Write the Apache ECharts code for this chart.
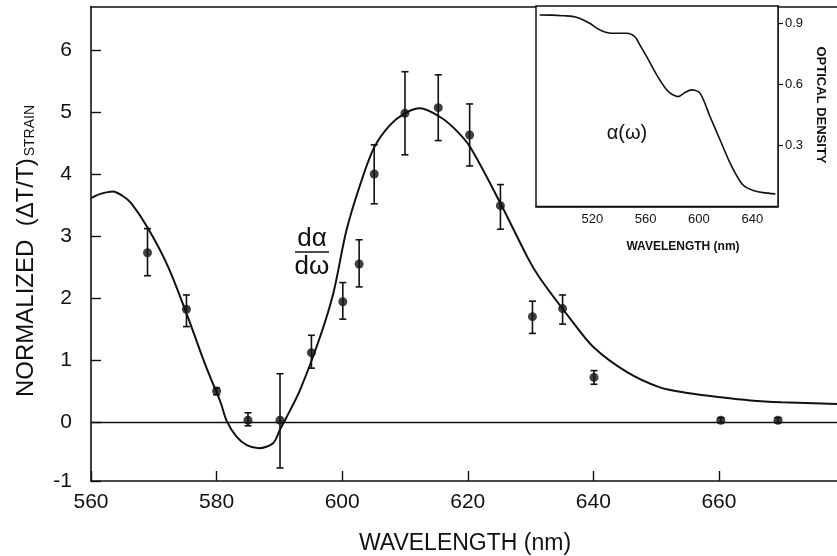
<!DOCTYPE html>
<html>
<head>
<meta charset="utf-8">
<script src="https://cdn.jsdelivr.net/npm/echarts@6/dist/echarts.min.js"></script>
<style>
html,body{margin:0;padding:0;background:#fff;}
#chart{width:837px;height:556px;}
</style>
</head>
<body>
<div id="chart"></div>
<script>
// Main panel: derivative curve d(alpha)/d(omega)
const curveX = [560, 561.5, 563.5, 565, 566.4, 569.1, 572.3, 575.4, 578.1, 579.5, 580.7, 581.6, 583.2, 584.8, 586.75, 589.0, 590.1, 591.0, 593.3, 596.5, 598.6, 600.7, 603.1, 605.1, 607.6, 610, 612.4, 615.6, 618, 620.35, 625.2, 629.6, 631.5, 636.3, 640, 645.3, 650.6, 655, 660.3, 665, 670, 678.8];
const curveY = [3.61, 3.68, 3.72, 3.65, 3.53, 3.12, 2.50, 1.70, 0.95, 0.60, 0.30, 0.02, -0.24, -0.37, -0.42, -0.34, -0.12, 0.05, 0.52, 1.38, 2.08, 3.10, 3.90, 4.43, 4.79, 4.98, 5.06, 4.92, 4.72, 4.44, 3.53, 2.64, 2.32, 1.67, 1.21, 0.81, 0.56, 0.47, 0.40, 0.35, 0.32, 0.29];

// Measured points with error bars
const pointX = [569.0, 575.2, 580.0, 585.0, 590.1, 595.1, 600.1, 602.7, 605.1, 610.0, 615.3, 620.3, 625.2, 630.3, 635.1, 640.1, 660.3, 669.4];
const pointY = [2.73, 1.82, 0.50, 0.03, 0.03, 1.12, 1.94, 2.55, 4.00, 4.98, 5.07, 4.63, 3.49, 1.70, 1.83, 0.72, 0.03, 0.03];
const errLow = [2.36, 1.54, 0.44, -0.06, -0.74, 0.87, 1.66, 2.18, 3.52, 4.31, 4.54, 4.13, 3.11, 1.43, 1.58, 0.61, -0.01, -0.01];
const errHigh = [3.12, 2.05, 0.55, 0.15, 0.78, 1.40, 2.25, 2.94, 4.47, 5.65, 5.60, 5.13, 3.83, 1.95, 2.05, 0.83, 0.07, 0.07];

// Inset: absorption alpha(omega)
const insetX = [480.5, 490, 498.5, 505, 510.8, 518, 525.8, 534.5, 545.8, 552, 556, 560.8, 568.3, 575.8, 580, 584.5, 589.5, 594.5, 600.8, 608.3, 615.8, 623.3, 630.8, 635, 640.8, 648, 657.3];
const insetY = [0.941, 0.940, 0.937, 0.934, 0.924, 0.900, 0.867, 0.851, 0.851, 0.834, 0.790, 0.736, 0.647, 0.573, 0.550, 0.540, 0.560, 0.573, 0.557, 0.442, 0.328, 0.214, 0.124, 0.095, 0.079, 0.068, 0.062];

// Tick labels
const mainXTicks = [560, 580, 600, 620, 640, 660];
const mainYTicks = [-1, 0, 1, 2, 3, 4, 5, 6];
const insetXTicks = [520, 560, 600, 640];
const insetYTicks = [0.3, 0.6, 0.9];

const FONT = 'Liberation Sans, Arial, sans-serif';
const INK = '#111';
const Y_MIN = -0.95;
const yTickPos = mainYTicks.map(v => Math.max(v, Y_MIN));

const chart = echarts.init(document.getElementById('chart'), null, {renderer: 'canvas'});

const curveData = curveX.map((x, i) => [x, curveY[i]]);
const pointData = pointX.map((x, i) => [x, pointY[i]]);
const errData = pointX.map((x, i) => [x, errLow[i], errHigh[i]]);
const insetData = insetX.map((x, i) => [x, insetY[i]]);

const option = {
  animation: false,
  backgroundColor: '#fff',
  grid: [
    {left: 91, right: 0, top: 6.6, bottom: 75, show: false},
    {left: 536, right: 59, top: 6, bottom: 349.5, show: true, backgroundColor: '#fff', borderColor: INK, borderWidth: 1.5, z: 5}
  ],
  xAxis: [
    {
      type: 'value', gridIndex: 0, min: 560, max: 678.8,
      axisLine: {show: true, onZero: false, lineStyle: {color: INK, width: 1.6}},
      axisTick: {show: true, inside: true, length: 10, customValues: mainXTicks, lineStyle: {color: INK, width: 1.4}},
      axisLabel: {show: true, margin: 11, color: INK, fontFamily: FONT, fontSize: 21, customValues: mainXTicks},
      splitLine: {show: false}
    },
    {
      type: 'value', gridIndex: 0, position: 'top', min: 560, max: 678.8,
      axisLine: {show: true, onZero: false, lineStyle: {color: INK, width: 1.6}},
      axisTick: {show: false}, axisLabel: {show: false}, splitLine: {show: false}
    },
    {
      type: 'value', gridIndex: 1, min: 477.8, max: 659.3,
      axisLine: {show: true, onZero: false, lineStyle: {color: INK, width: 1.5}},
      axisTick: {show: true, inside: true, length: 6, customValues: insetXTicks, lineStyle: {color: INK, width: 1.2}},
      axisLabel: {show: true, margin: 6, color: INK, fontFamily: FONT, fontSize: 13, customValues: insetXTicks},
      splitLine: {show: false}
    }
  ],
  yAxis: [
    {
      type: 'value', gridIndex: 0, min: Y_MIN, max: 6.7,
      axisLine: {show: true, onZero: false, lineStyle: {color: INK, width: 1.6}},
      axisTick: {show: true, inside: true, length: 10, customValues: yTickPos, lineStyle: {color: INK, width: 1.4}},
      axisLabel: {
        show: true, margin: 19, color: INK, fontFamily: FONT, fontSize: 21, customValues: yTickPos,
        formatter: v => String(Math.round(v))
      },
      splitLine: {show: false}
    },
    {
      type: 'value', gridIndex: 1, position: 'right', min: 0, max: 0.985,
      axisLine: {show: true, onZero: false, lineStyle: {color: INK, width: 1.5}},
      axisTick: {show: true, inside: false, length: 5, customValues: insetYTicks, lineStyle: {color: INK, width: 1.2}},
      axisLabel: {show: true, margin: 7, color: INK, fontFamily: FONT, fontSize: 13, customValues: insetYTicks,
        formatter: v => v.toFixed(1)},
      splitLine: {show: false}
    }
  ],
  series: [
    {
      type: 'line', xAxisIndex: 0, yAxisIndex: 0, data: curveData,
      smooth: 0.3, showSymbol: false, symbol: 'none',
      lineStyle: {color: INK, width: 2},
      markLine: {
        silent: true, symbol: ['none', 'none'], label: {show: false},
        lineStyle: {color: INK, width: 1.4, type: 'solid'},
        data: [{yAxis: 0}]
      },
      z: 2
    },
    {
      type: 'custom', xAxisIndex: 0, yAxisIndex: 0, data: errData,
      renderItem: function (params, api) {
        const x = api.value(0);
        const lo = api.coord([x, api.value(1)]);
        const hi = api.coord([x, api.value(2)]);
        const w = 3.5;
        const st = {stroke: INK, lineWidth: 1.6};
        return {
          type: 'group',
          children: [
            {type: 'line', shape: {x1: lo[0], y1: lo[1], x2: hi[0], y2: hi[1]}, style: st},
            {type: 'line', shape: {x1: lo[0] - w, y1: lo[1], x2: lo[0] + w, y2: lo[1]}, style: st},
            {type: 'line', shape: {x1: hi[0] - w, y1: hi[1], x2: hi[0] + w, y2: hi[1]}, style: st}
          ]
        };
      },
      z: 3
    },
    {
      type: 'scatter', xAxisIndex: 0, yAxisIndex: 0, data: pointData,
      symbol: 'circle', symbolSize: 9, itemStyle: {color: INK}, z: 4
    },
    {
      type: 'line', xAxisIndex: 2, yAxisIndex: 1, data: insetData,
      smooth: 0.3, showSymbol: false, symbol: 'none',
      lineStyle: {color: INK, width: 1.6}, z: 6
    }
  ],
  graphic: [
    {
      type: 'text', x: 25, y: 251, rotation: Math.PI / 2, z: 10,
      style: {
        text: '{a|NORMALIZED  (ΔT/T)}{b|STRAIN}',
        align: 'center', verticalAlign: 'middle',
        rich: {
          a: {fontFamily: FONT, fontSize: 24, fill: INK, lineHeight: 26, verticalAlign: 'bottom'},
          b: {fontFamily: FONT, fontSize: 14, fill: INK, lineHeight: 26, verticalAlign: 'bottom', padding: [0, 0, 1, 2]}
        }
      }
    },
    {
      type: 'text', x: 465, y: 544, z: 10,
      style: {text: 'WAVELENGTH (nm)', fontFamily: FONT, fontSize: 23, fill: INK, align: 'center', verticalAlign: 'middle'}
    },
    {
      type: 'text', x: 312, y: 239, z: 10,
      style: {text: 'dα', fontFamily: FONT, fontSize: 26, fill: INK, align: 'center', verticalAlign: 'middle'}
    },
    {
      type: 'line', z: 10, shape: {x1: 295, y1: 252, x2: 329, y2: 252}, style: {stroke: INK, lineWidth: 1.6}
    },
    {
      type: 'text', x: 312, y: 267, z: 10,
      style: {text: 'dω', fontFamily: FONT, fontSize: 26, fill: INK, align: 'center', verticalAlign: 'middle'}
    },
    {
      type: 'text', x: 627, y: 133, z: 10,
      style: {text: 'α(ω)', fontFamily: FONT, fontSize: 20, fill: INK, align: 'center', verticalAlign: 'middle'}
    },
    {
      type: 'text', x: 683, y: 247, z: 10,
      style: {text: 'WAVELENGTH (nm)', fontFamily: FONT, fontSize: 12, fontWeight: 'bold', fill: INK, align: 'center', verticalAlign: 'middle'}
    },
    {
      type: 'text', x: 821, y: 105, rotation: -Math.PI / 2, z: 10,
      style: {text: 'OPTICAL DENSITY', fontFamily: FONT, fontSize: 13, fontWeight: 'bold', fill: INK, align: 'center', verticalAlign: 'middle'}
    }
  ]
};

chart.setOption(option);
</script>
</body>
</html>
